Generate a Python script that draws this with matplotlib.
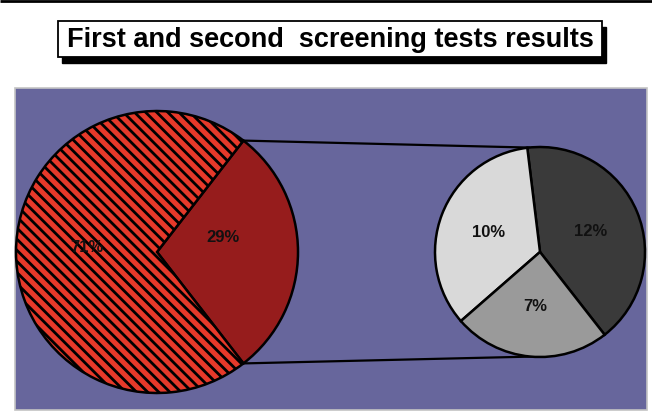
import numpy as np
import matplotlib
matplotlib.use('Agg')
import matplotlib.pyplot as plt
from matplotlib.patches import Rectangle

# data
title = 'First and second  screening tests results'
first_values = [29, 71]
first_colors = ['#961c1c', '#e6392a']
second_values = [12, 10, 7]
second_colors = ['#3a3a3a', '#d9d9d9', '#9a9a9a']

W, H = 652, 413

plt.rcParams['hatch.color'] = '#661313'
plt.rcParams['hatch.linewidth'] = 2.0

fig = plt.figure(figsize=(W / 100, H / 100), dpi=100)
ax = fig.add_axes([0, 0, 1, 1])


def py(y):
    # pixel row (from top) -> data y
    return H - y


# top rule
ax.plot([0, W], [py(1), py(1)], color='black', lw=2, solid_capstyle='butt')

# title box with shadow
ax.add_patch(Rectangle((62, py(63)), 544, 36, facecolor='black',
                       edgecolor='black', zorder=2))
ax.add_patch(Rectangle((58, py(57)), 544, 36, facecolor='white',
                       edgecolor='black', lw=1.3, zorder=3))
ax.text(330, py(40), title, ha='center', va='center', fontsize=19.5,
        fontweight='bold', family='Liberation Sans', zorder=4)

# background panel
ax.add_patch(Rectangle((15, py(410)), 632, 322, facecolor='#67669c',
                       edgecolor='#c4c4c4', lw=1.2, zorder=1))

# first pie
c1, r1 = (157, py(252)), 141
ang1 = 360 * first_values[0] / sum(first_values)
w1, t1 = ax.pie(first_values, colors=first_colors, center=c1, radius=r1,
                startangle=-ang1 / 2, counterclock=True,
                wedgeprops=dict(edgecolor='black', linewidth=1.8))
w1[1].set_hatch('\\\\\\')
for w in w1:
    w.set_zorder(5)

# second pie
c2, r2 = (540, py(252)), 105
w2, t2 = ax.pie(second_values, colors=second_colors, center=c2, radius=r2,
                startangle=-52, counterclock=True,
                wedgeprops=dict(edgecolor='black', linewidth=1.8))
for w in w2:
    w.set_zorder(5)

# labels
lab_kw = dict(ha='center', va='center', fontsize=12, fontweight='bold',
              family='Liberation Sans', color='#111111', zorder=6)
for w, v, d, off in zip(w1, first_values, [0.47, 0.5], [14, 4]):
    mid = np.deg2rad((w.theta1 + w.theta2) / 2)
    ax.text(c1[0] + d * r1 * np.cos(mid), c1[1] + d * r1 * np.sin(mid) + off,
            f'{v}%', **lab_kw)
for w, v in zip(w2, second_values):
    mid = np.deg2rad((w.theta1 + w.theta2) / 2)
    ax.text(c2[0] + 0.52 * r2 * np.cos(mid), c2[1] + 0.52 * r2 * np.sin(mid),
            f'{v}%', **lab_kw)

# connecting lines
top = np.deg2rad(w1[0].theta2)
bot = np.deg2rad(w1[0].theta1)
for a1, a2 in [(top, np.deg2rad(96)), (bot, np.deg2rad(265))]:
    ax.plot([c1[0] + r1 * np.cos(a1), c2[0] + r2 * np.cos(a2)],
            [c1[1] + r1 * np.sin(a1), c2[1] + r2 * np.sin(a2)],
            color='black', lw=1.6, zorder=4)

ax.set_xlim(0, W)
ax.set_ylim(0, H)
ax.set_aspect('equal')
ax.axis('off')

fig.savefig('out.png', dpi=100, facecolor='white')
